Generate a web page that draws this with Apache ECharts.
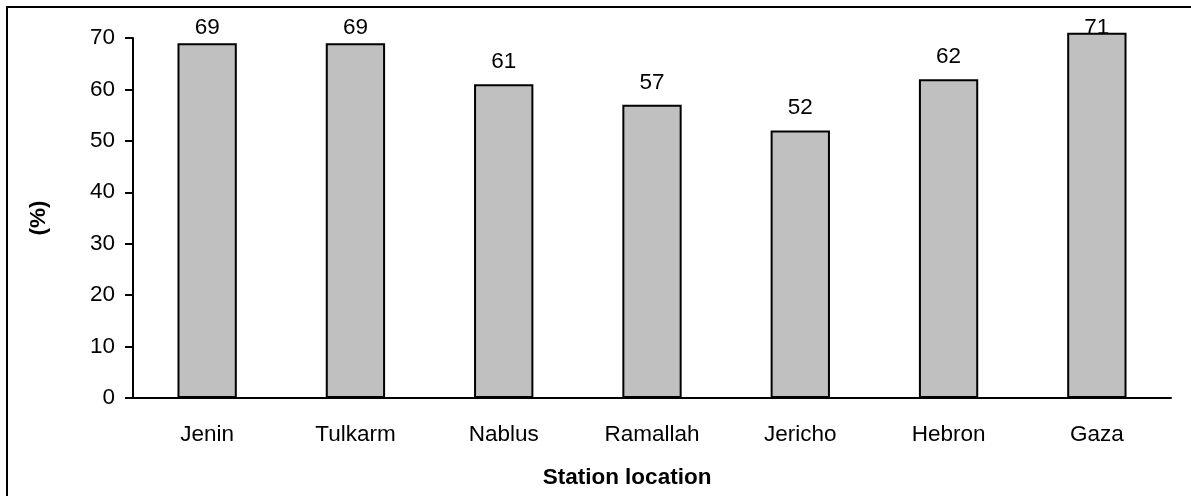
<!DOCTYPE html>
<html>
<head>
<meta charset="utf-8">
<title>Station location</title>
<script src="https://cdn.jsdelivr.net/npm/echarts@6/dist/echarts.min.js"></script>
<style>
  html, body { margin: 0; padding: 0; background: #fff; }
  #chart { width: 1191px; height: 496px; }
</style>
</head>
<body>
<div id="chart"></div>
<script>
// Station names along the horizontal axis
const stations = ['Jenin', 'Tulkarm', 'Nablus', 'Ramallah', 'Jericho', 'Hebron', 'Gaza'];
// Percentage per station
const percentValues = [69, 69, 61, 57, 52, 62, 71];
// Vertical axis ticks
const yTicks = [0, 10, 20, 30, 40, 50, 60, 70];

const FONT = 'Arial, "Liberation Sans", sans-serif';
const FS = 22.5;

const chart = echarts.init(document.getElementById('chart'), null, { renderer: 'canvas' });

function buildOption(labelDistances) {
  return {
    backgroundColor: '#ffffff',
    animation: false,
    textStyle: { fontFamily: FONT, color: '#000' },
    graphic: [{
      type: 'rect',
      silent: true,
      shape: { x: 7, y: 7, width: 1400, height: 700 },
      style: { fill: 'none', stroke: '#000', lineWidth: 2 }
    }],
    grid: { left: 133, right: 20, top: 38, bottom: 98, containLabel: false },
    xAxis: {
      type: 'category',
      data: stations,
      boundaryGap: true,
      name: 'Station location',
      nameLocation: 'middle',
      nameGap: 68,
      nameTextStyle: {
        fontFamily: FONT, fontSize: FS, fontWeight: 'bold', color: '#000',
        padding: [0, 50, 0, 0]
      },
      axisLine: { show: true, lineStyle: { color: '#000', width: 2 } },
      axisTick: { show: false },
      axisLabel: { margin: 25, fontFamily: FONT, fontSize: FS, color: '#000' },
      splitLine: { show: false }
    },
    yAxis: {
      type: 'value',
      min: yTicks[0],
      max: yTicks[yTicks.length - 1],
      interval: yTicks[1] - yTicks[0],
      name: '(%)',
      nameLocation: 'middle',
      nameRotate: 90,
      nameGap: 83,
      nameTextStyle: { fontFamily: FONT, fontSize: FS, fontWeight: 'bold', color: '#000' },
      axisLine: { show: true, lineStyle: { color: '#000', width: 2 } },
      axisTick: { show: true, inside: false, length: 8, lineStyle: { color: '#000', width: 2 } },
      axisLabel: { margin: 18, fontFamily: FONT, fontSize: FS, color: '#000' },
      splitLine: { show: false }
    },
    series: [{
      type: 'bar',
      clip: false,
      barWidth: '40%',
      itemStyle: { color: '#c0c0c0', borderColor: '#000', borderWidth: 2 },
      label: {
        show: true,
        position: 'top',
        fontFamily: FONT,
        fontSize: FS,
        color: '#000'
      },
      data: percentValues.map((v, i) => ({
        value: v,
        label: { distance: labelDistances ? labelDistances[i] : 11 }
      }))
    }]
  };
}

chart.setOption(buildOption(null));

// Value labels sit a fixed gap above each bar, but are pushed down so they
// never rise past the top margin (they may then overlap a tall bar's top).
const LABEL_GAP = 11;
const LABEL_MIN_BOTTOM = 39;
const distances = percentValues.map(v => {
  const barTop = chart.convertToPixel({ yAxisIndex: 0 }, v);
  const bottom = Math.max(barTop - LABEL_GAP, LABEL_MIN_BOTTOM);
  return barTop - bottom;
});
chart.setOption(buildOption(distances));
</script>
</body>
</html>
